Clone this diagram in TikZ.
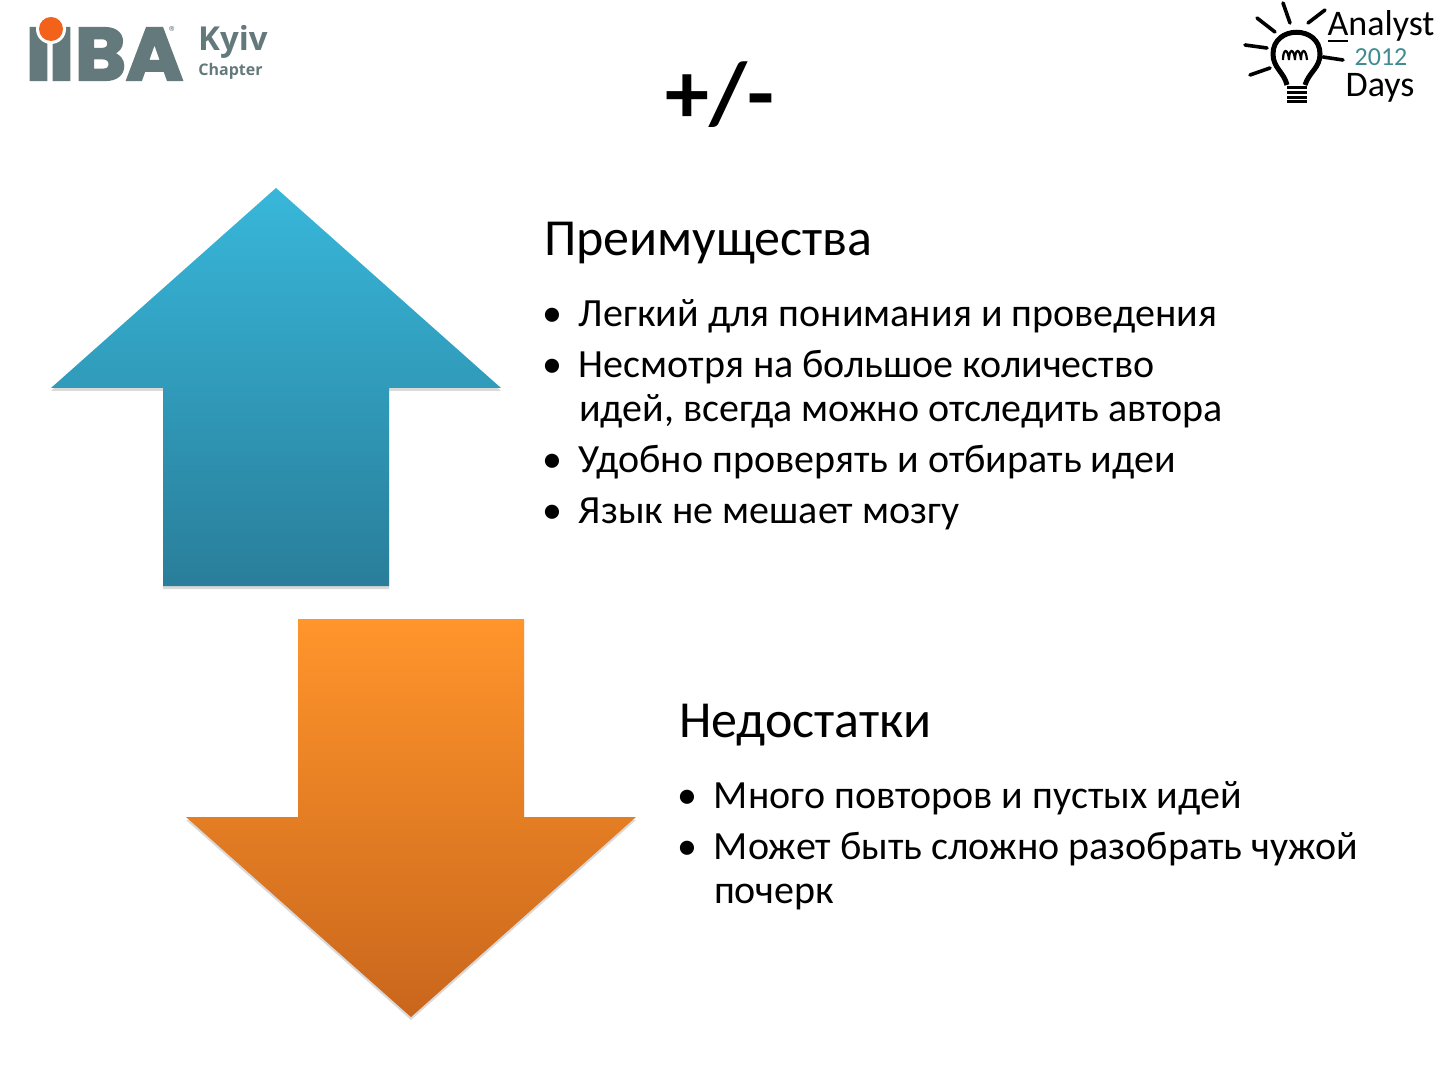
\documentclass[tikz,border=0pt]{standalone}
\usepackage{fontspec}
\setmainfont{Carlito}
\newfontfamily\logofont[BoldFeatures={FakeBold=3}]{Poppins}
\newfontfamily\chapterfont{Open Sans}
\usetikzlibrary{positioning,shadows}
\definecolor{ibagray}{HTML}{64797B}
\definecolor{ibaorange}{HTML}{F2621B}
\definecolor{upTop}{HTML}{38B7DA}
\definecolor{upBottom}{HTML}{297E9A}
\definecolor{downTop}{HTML}{FF952B}
\definecolor{downBottom}{HTML}{C9661C}
\definecolor{bulbteal}{HTML}{3F8C92}
\newcommand{\itemline}[1]{\makebox[17.5pt][l]{\hspace{-0.8pt}\textbullet}\parbox[t]{332pt}{\raggedright\spaceskip=\fontdimen2\font #1}}

\begin{document}
\begin{tikzpicture}[%
	x=0.5pt, y=-0.5pt,
	node distance=2cm,
	textnode/.style={inner sep=0, text width=350pt, align=left, font=\fontsize{20}{22}\selectfont},
	headnode/.style={textnode, font=\fontsize{26}{29}\selectfont},
	bigarrow/.style={drop shadow={shadow xshift=0pt, shadow yshift=-1.5pt, opacity=.3}},
	ray/.style={line width=1.8pt, line cap=round}
	]
	\useasboundingbox (0,0) rectangle (1440,1080);
	
	% arrows
	\path[bigarrow, top color=upTop, bottom color=upBottom] (276,188) -- (501,388) -- (389,388) -- (389,586) -- (163,586) -- (163,388) -- (51,388) -- cycle;
	\path[bigarrow, top color=downTop, bottom color=downBottom] (298,619) -- (524,619) -- (524,817) -- (636,817) -- (411,1017) -- (186,817) -- (298,817) -- cycle;
	
	\node[font=\fontsize{44}{50}\selectfont\bfseries, inner sep=0] (title) at (720,95) {+/-};
	
	% advantages
	\node[headnode] (pros) at (894,243) {Преимущества};
	\node[textnode] (pros1) [below of=pros, node distance=36.5pt] {\itemline{Легкий для понимания и проведения}};
	\node[textnode] (pros2) [below of=pros1, node distance=36.5pt] {\itemline{Несмотря на большое количество идей, всегда можно отследить автора}};
	\node[textnode] (pros3) [below of=pros2, node distance=36.5pt] {\itemline{Удобно проверять и отбирать идеи}};
	\node[textnode] (pros4) [below of=pros3, node distance=26pt] {\itemline{Язык не мешает мозгу}};
	
	% disadvantages
	\node[headnode] (cons) at (1029,725) {Недостатки};
	\node[textnode] (cons1) [below of=cons, node distance=36.5pt] {\itemline{Много повторов и пустых идей}};
	\node[textnode] (cons2) [below of=cons1, node distance=36.5pt] {\itemline{Может быть сложно разобрать чужой почерк}};
	
	% IIBA logo
	\foreach \x/\name in {38.5/ibaone,61.5/ibatwo}
		\node[inner sep=0, text=ibagray] (\name) at (\x,54) {\resizebox{13pt}{26pt}{\logofont\bfseries I}};
	\node[inner sep=0, text=ibagray] (iba) at (129,54) {\resizebox{54pt}{26pt}{\logofont\bfseries BA}};
	\fill[white] (51,29) circle (15);
	\node[circle, fill=ibaorange, minimum size=12pt, inner sep=0] (dot) at (51,29) {};
	\node[text=ibagray, inner sep=0, font=\fontsize{16.5}{18}\selectfont\chapterfont\bfseries] (kyiv) at (233,42) {Kyiv};
	\node[text=ibagray, inner sep=0, font=\fontsize{8}{10}\selectfont\chapterfont\bfseries] (chapter) at (230.5,71) {Chapter};
	\node[text=ibagray, inner sep=0, font=\fontsize{8}{8}\selectfont] (reg) at (173,32) {®};
	
	% bulb logo
	\draw[line width=2.5pt] (1287,85) .. controls (1284,72) and (1273,68) .. (1273,54) .. controls (1273,25) and (1320,25) .. (1320,54) .. controls (1320,68) and (1309,72) .. (1305,85);
	\draw[line width=1.1pt] (1283,60) .. controls (1283,48) and (1288,48) .. (1289,60) .. controls (1289,48) and (1294,48) .. (1295,60) .. controls (1295,48) and (1300,48) .. (1301,60) .. controls (1301,48) and (1306,48) .. (1307,60);
	\foreach \y in {88,93,98,102}
		\draw[line width=1.5pt] (1287,\y) -- (1307,\y);
	\draw[ray] (1283,3) -- (1290,23);
	\draw[ray] (1257,18) -- (1275,32);
	\draw[ray] (1245,45) -- (1267,48);
	\draw[ray] (1250,75) -- (1270,68);
	\draw[ray] (1323,57) -- (1343,60);
	\draw[ray] (1308,23) -- (1325,10);
	\draw[line width=0.7pt] (1328,41) -- (1348,41);
	\node[inner sep=0, font=\fontsize{18}{20}\selectfont] (analyst) at (1381,26) {Analyst};
	\node[inner sep=0, text=bulbteal, font=\fontsize{13}{15}\selectfont] (year) at (1381,57) {2012};
	\node[inner sep=0, font=\fontsize{18}{20}\selectfont] (days) at (1380,88) {Days};
\end{tikzpicture}
\end{document}
